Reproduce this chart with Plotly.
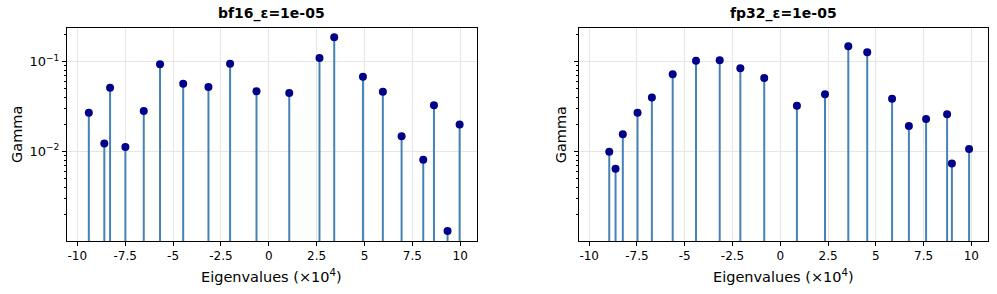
import plotly.graph_objects as go

# ---- data ----
bf16_x = [-9.40, -8.59, -8.29, -7.49, -6.53, -5.68, -4.47, -3.15, -2.02, -0.64,
          1.07, 2.65, 3.42, 4.92, 5.96, 6.94, 8.07, 8.63, 9.34, 9.97]
bf16_gamma = [0.027, 0.0122, 0.0513, 0.0112, 0.0282, 0.0935, 0.0569, 0.0522, 0.095, 0.0468,
              0.0448, 0.110, 0.187, 0.068, 0.0463, 0.0147, 0.00807, 0.0327, 0.00129, 0.0199]

fp32_x = [-8.95, -8.62, -8.24, -7.47, -6.72, -5.63, -4.41, -3.17, -2.09, -0.84,
          0.87, 2.34, 3.56, 4.55, 5.85, 6.73, 7.63, 8.73, 8.98, 9.88]
fp32_gamma = [0.0099, 0.0064, 0.0155, 0.027, 0.040, 0.0724, 0.1026, 0.1037, 0.0844, 0.0657,
              0.0323, 0.0433, 0.1485, 0.1274, 0.0387, 0.0192, 0.023, 0.0259, 0.0073, 0.0106]

titles = ["bf16_ε=1e-05", "fp32_ε=1e-05"]
x_tickvals = [-10, -7.5, -5, -2.5, 0, 2.5, 5, 7.5, 10]
x_ticktext = ["-10", "-7.5", "-5", "-2.5", "0", "2.5", "5", "7.5", "10"]
y_tickvals = [0.01, 0.1]
y_ticktext = ["10<sup>−2</sup>", "10<sup>−1</sup>"]
y_minor = [k * 10 ** e for e in (-3, -2, -1) for k in range(2, 10)]

STEM_BASE = 1e-6
STEM_COLOR = "#4682b4"
MARK_COLOR = "#00008b"
FONT = "DejaVu Sans"

fig = go.Figure()

W, H = 997, 294
ml, mr, mt, mb = 67, 9.3, 28, 53
pw = W - ml - mr
d1 = [0, (476.7 - ml) / pw]
d2 = [(578.7 - ml) / pw, 1]

for i, (xs, ys) in enumerate([(bf16_x, bf16_gamma), (fp32_x, fp32_gamma)]):
    xa = "x" if i == 0 else "x2"
    ya = "y" if i == 0 else "y2"
    sx, sy = [], []
    for x, y in zip(xs, ys):
        sx += [x, x, None]
        sy += [STEM_BASE, y, None]
    fig.add_trace(go.Scatter(x=sx, y=sy, mode="lines", xaxis=xa, yaxis=ya,
                             line=dict(color=STEM_COLOR, width=2), showlegend=False,
                             hoverinfo="skip"))
    fig.add_trace(go.Scatter(x=xs, y=ys, mode="markers", xaxis=xa, yaxis=ya,
                             marker=dict(color=MARK_COLOR, size=8), showlegend=False))

xaxis_common = dict(range=[-10.54, 10.87], tickmode="array", tickvals=x_tickvals,
                    ticktext=x_ticktext, showline=True, linecolor="black", linewidth=1,
                    mirror=True, ticks="outside", ticklen=4, tickcolor="black",
                    showgrid=True, gridcolor="#e6e6e6", gridwidth=1, zeroline=False,
                    tickfont=dict(family=FONT, size=12, color="black"))
yaxis_common = dict(type="log", range=[-3.0, -0.624], tickmode="array", tickvals=y_tickvals,
                    ticktext=y_ticktext, showline=True, linecolor="black", linewidth=1,
                    mirror=True, ticks="outside", ticklen=4, tickcolor="black",
                    showgrid=True, gridcolor="#e6e6e6", gridwidth=1, zeroline=False,
                    minor=dict(tickvals=y_minor, ticks="outside", ticklen=2,
                               tickcolor="black", showgrid=False),
                    tickfont=dict(family=FONT, size=13, color="black"))

fig.update_layout(
    width=W, height=H,
    margin=dict(l=ml, r=mr, t=mt, b=mb, autoexpand=False),
    paper_bgcolor="white", plot_bgcolor="white",
    font=dict(family=FONT, color="black"),
    xaxis=dict(domain=d1, anchor="y", **xaxis_common),
    xaxis2=dict(domain=d2, anchor="y2", **xaxis_common),
    yaxis=dict(domain=[0, 1], anchor="x", **yaxis_common),
    yaxis2=dict(domain=[0, 1], anchor="x2", showticklabels=False,
                **{k: v for k, v in yaxis_common.items()}),
)

annotations = []
for i, dom in enumerate([d1, d2]):
    cx = (dom[0] + dom[1]) / 2
    annotations.append(dict(text="<b>" + titles[i] + "</b>", x=cx, y=1, xref="paper", yref="paper",
                            xanchor="center", yanchor="bottom", yshift=4, showarrow=False,
                            font=dict(family=FONT, size=14, color="black")))
    annotations.append(dict(text="Eigenvalues (×10<sup>4</sup>)", x=cx, y=0, xref="paper", yref="paper",
                            xanchor="center", yanchor="top", yshift=-24, showarrow=False,
                            font=dict(family=FONT, size=14.5, color="black")))
yl_px = [16.5, 560.7]
for px in yl_px:
    annotations.append(dict(text="Gamma", x=(px - ml) / pw, y=0.5, xref="paper", yref="paper",
                            xanchor="center", yanchor="middle", textangle=-90, showarrow=False,
                            font=dict(family=FONT, size=14.5, color="black")))
fig.update_layout(annotations=annotations)

fig.write_html("out.html", config={"displayModeBar": False},
               post_script="document.body.style.margin='0';document.body.style.padding='0';")
